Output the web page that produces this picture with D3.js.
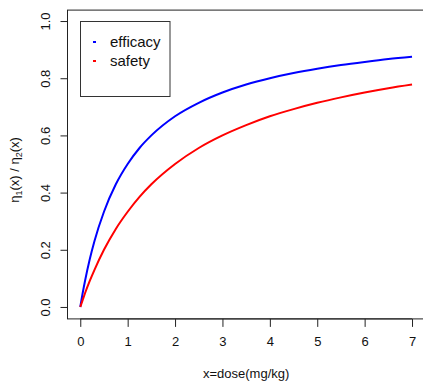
<!DOCTYPE html>
<html>
<head>
<meta charset="utf-8">
<script src="https://cdn.jsdelivr.net/npm/d3@7"></script>
<style>
  body { margin: 0; background: #fff; }
  text { font-family: "Liberation Sans", Arial, sans-serif; }
</style>
</head>
<body>
<svg width="423" height="382"></svg>
<script>
// values
var dose = [0, 0.05, 0.1, 0.2, 0.3, 0.5, 0.75, 1, 1.25, 1.5, 2, 2.5, 3, 3.5, 4, 4.5, 5, 5.5, 6, 6.5, 7];
var efficacy = [0, 0.048, 0.091, 0.167, 0.231, 0.333, 0.429, 0.5, 0.556, 0.6, 0.667, 0.714, 0.75, 0.778, 0.8, 0.818, 0.833, 0.846, 0.857, 0.867, 0.875];
var safety = [0, 0.024, 0.048, 0.091, 0.13, 0.2, 0.273, 0.333, 0.385, 0.429, 0.5, 0.556, 0.6, 0.636, 0.667, 0.692, 0.714, 0.733, 0.75, 0.765, 0.778];
var xTicks = [0, 1, 2, 3, 4, 5, 6, 7];
var yTicks = [0, 0.2, 0.4, 0.6, 0.8, 1.0];
var seriesNames = ["efficacy", "safety"];
var seriesColors = ["blue", "red"];

var svg = d3.select("svg");

// R style: range extended 4% each side
var x = d3.scaleLinear().domain([-0.28, 7.28]).range([67, 425.3]);
var y = d3.scaleLinear().domain([-0.04, 1.04]).range([318.4, 9.6]);

var g = svg.append("g");

// box
g.append("rect")
  .attr("x", x(-0.28) + 0.5).attr("y", y(1.04) + 0.5)
  .attr("width", x(7.28) - x(-0.28)).attr("height", y(-0.04) - y(1.04))
  .attr("fill", "none").attr("stroke", "#222").attr("stroke-width", 1);

// x axis
var xAxis = d3.axisBottom(x).tickValues(xTicks).tickSize(8).tickPadding(10)
  .tickFormat(d3.format("d"));
var gx = svg.append("g")
  .attr("transform", "translate(0," + (y(-0.04) + 0.5) + ")")
  .call(xAxis);
gx.select(".domain").attr("d", "M" + x(0) + ",0H" + x(7)).attr("stroke", "#222");
gx.selectAll(".tick line").attr("stroke", "#222");
gx.selectAll(".tick text").attr("font-size", 13).attr("fill", "#111");

// y axis
var yAxis = d3.axisLeft(y).tickValues(yTicks).tickSize(7)
  .tickFormat(d3.format(".1f"));
var gy = svg.append("g")
  .attr("transform", "translate(" + (x(-0.28) + 0.5) + ",0)")
  .call(yAxis);
gy.select(".domain").attr("d", "M0," + y(0) + "V" + y(1)).attr("stroke", "#222");
gy.selectAll(".tick line").attr("stroke", "#222");
gy.selectAll(".tick text")
  .attr("font-size", 13).attr("fill", "#111")
  .attr("x", null)
  .attr("text-anchor", "middle")
  .attr("transform", "translate(-22,0) rotate(-90)")
  .attr("y", 0)
  .attr("dy", "0.35em");

// axis labels
svg.append("text")
  .attr("x", (x(-0.28) + x(7.28)) / 2).attr("y", 378)
  .attr("text-anchor", "middle").attr("font-size", 13).attr("fill", "#111")
  .text("x=dose(mg/kg)");

var ylab = svg.append("text")
  .attr("transform", "translate(19," + ((y(-0.04) + y(1.04)) / 2 + 6) + ") rotate(-90)")
  .attr("text-anchor", "middle").attr("font-size", 13).attr("fill", "#111");
ylab.append("tspan").text("\u03B7");
ylab.append("tspan").attr("font-size", 9).attr("dy", 3).text("1");
ylab.append("tspan").attr("dy", -3).text("(x) / \u03B7");
ylab.append("tspan").attr("font-size", 9).attr("dy", 3).text("2");
ylab.append("tspan").attr("dy", -3).text("(x)");

// curves
var line = d3.line()
  .x(function(d) { return x(d[0]); })
  .y(function(d) { return y(d[1]); })
  .curve(d3.curveMonotoneX);

[efficacy, safety].forEach(function(vals, i) {
  svg.append("path")
    .datum(dose.map(function(d, j) { return [d, vals[j]]; }))
    .attr("d", line)
    .attr("fill", "none")
    .attr("stroke", seriesColors[i])
    .attr("stroke-width", 2);
});

// legend
var lg = svg.append("g");
lg.append("rect")
  .attr("x", 80.5).attr("y", 21.5).attr("width", 89.5).attr("height", 75)
  .attr("fill", "white").attr("stroke", "#333");
seriesNames.forEach(function(name, i) {
  lg.append("line")
    .attr("x1", 93).attr("x2", 96)
    .attr("y1", 42 + i * 19).attr("y2", 42 + i * 19)
    .attr("stroke", seriesColors[i]).attr("stroke-width", 2);
  lg.append("text")
    .attr("x", 110).attr("y", 42 + i * 19).attr("dy", "0.35em")
    .attr("font-size", 15).attr("fill", "#111")
    .text(name);
});
</script>
</body>
</html>
